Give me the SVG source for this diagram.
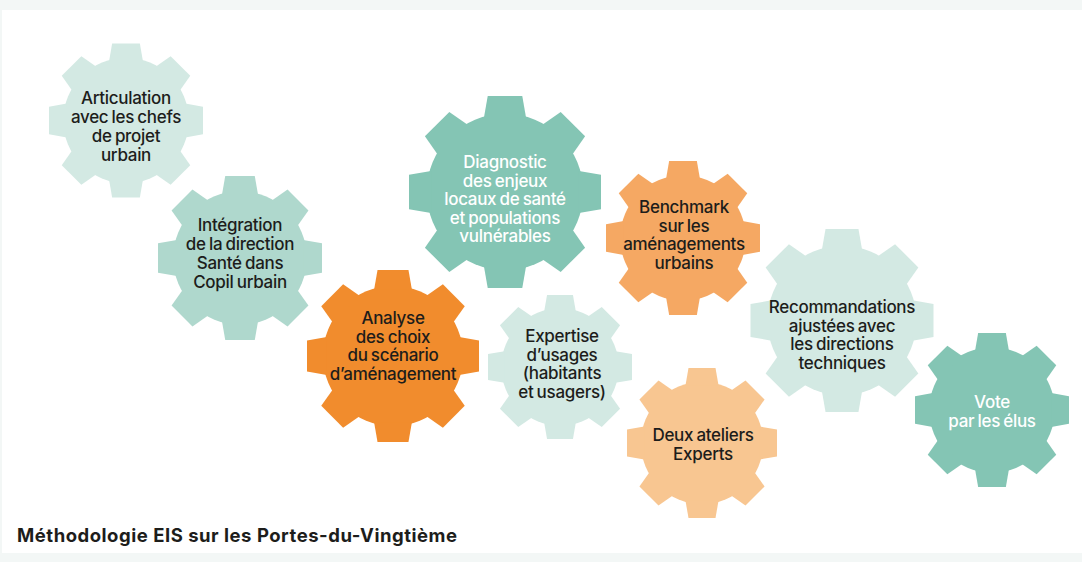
<svg xmlns="http://www.w3.org/2000/svg" xmlns:xlink="http://www.w3.org/1999/xlink" width="1082" height="562" viewBox="0 0 1082 562">
<style>
.lbl{font-family:Inter,"Liberation Sans",sans-serif;font-size:17px;font-weight:500;text-anchor:middle;fill:#1d1d1b;letter-spacing:-0.3px;word-spacing:-1px}
.w{fill:#ffffff}
.title{font-family:Inter,"Liberation Sans",sans-serif;font-size:18.5px;font-weight:700;fill:#1d1d1b}
.mint{fill:#d3e9e3}
.mid{fill:#afd8cd}
.teal{fill:#84c5b4}
.orange{fill:#f18c2d}
.lorange{fill:#f5a863}
.peach{fill:#f8c691}
</style>
<defs>
<path id="tooth" d="M-18,-100 L18,-100 L22,-77 L-22,-77 Z"/>
<g id="gear">
<circle r="81.5"/>
<use href="#tooth"/>
<use href="#tooth" transform="rotate(45)"/>
<use href="#tooth" transform="rotate(90)"/>
<use href="#tooth" transform="rotate(135)"/>
<use href="#tooth" transform="rotate(180)"/>
<use href="#tooth" transform="rotate(225)"/>
<use href="#tooth" transform="rotate(270)"/>
<use href="#tooth" transform="rotate(315)"/>
</g>
</defs>
<rect x="0" y="0" width="1082" height="562" fill="#f3f7f6"/>
<rect x="2" y="10" width="1080" height="543" fill="#ffffff"/>
<g id="connectors"/>
<g id="n1">
<use href="#gear" class="mint" transform="translate(126,120.5) scale(0.77)"/>
<text class="lbl"><tspan x="126" y="104">Articulation</tspan><tspan x="126" y="123">avec les chefs</tspan><tspan x="126" y="142">de projet</tspan><tspan x="126" y="161">urbain</tspan></text>
</g>
<g id="n2">
<use href="#gear" class="mid" transform="translate(240,258) scale(0.82)"/>
<text class="lbl"><tspan x="240" y="231">Intégration</tspan><tspan x="240" y="250">de la direction</tspan><tspan x="240" y="269">Santé dans</tspan><tspan x="240" y="288">Copil urbain</tspan></text>
</g>
<g id="n3">
<use href="#gear" class="orange" transform="translate(393,356) scale(0.86)"/>
<text class="lbl"><tspan x="393" y="324">Analyse</tspan><tspan x="393" y="342.5">des choix</tspan><tspan x="393" y="361">du scénario</tspan><tspan x="393" y="379.5">d’aménagement</tspan></text>
</g>
<g id="n4">
<use href="#gear" class="teal" transform="translate(505,192) scale(0.96)"/>
<text class="lbl w"><tspan x="505" y="168">Diagnostic</tspan><tspan x="505" y="186.5">des enjeux</tspan><tspan x="505" y="205">locaux de santé</tspan><tspan x="505" y="223.5">et populations</tspan><tspan x="505" y="242">vulnérables</tspan></text>
</g>
<g id="n5">
<use href="#gear" class="lorange" transform="translate(683,238) scale(0.77)"/>
<text class="lbl"><tspan x="684" y="213">Benchmark</tspan><tspan x="684" y="231.5">sur les</tspan><tspan x="684" y="250">aménagements</tspan><tspan x="684" y="268.5">urbains</tspan></text>
</g>
<g id="n6">
<use href="#gear" class="mint" transform="translate(560,367) scale(0.72)"/>
<text class="lbl"><tspan x="562" y="342">Expertise</tspan><tspan x="562" y="360.5">d’usages</tspan><tspan x="562" y="379">(habitants</tspan><tspan x="562" y="397.5">et usagers)</tspan></text>
</g>
<g id="n7">
<use href="#gear" class="peach" transform="translate(702,443) scale(0.75)"/>
<text class="lbl"><tspan x="703" y="441">Deux ateliers</tspan><tspan x="703" y="460">Experts</tspan></text>
</g>
<g id="n8">
<use href="#gear" class="mint" transform="translate(842,320.5) scale(0.915)"/>
<text class="lbl"><tspan x="842" y="313">Recommandations</tspan><tspan x="842" y="331.5">ajustées avec</tspan><tspan x="842" y="350">les directions</tspan><tspan x="842" y="368.5">techniques</tspan></text>
</g>
<g id="n9">
<use href="#gear" class="teal" transform="translate(992,410) scale(0.77)"/>
<text class="lbl w"><tspan x="992" y="408">Vote</tspan><tspan x="992" y="427">par les élus</tspan></text>
</g>
<text class="title" x="17" y="542" textLength="440" lengthAdjust="spacing">Méthodologie EIS sur les Portes-du-Vingtième</text>
</svg>
